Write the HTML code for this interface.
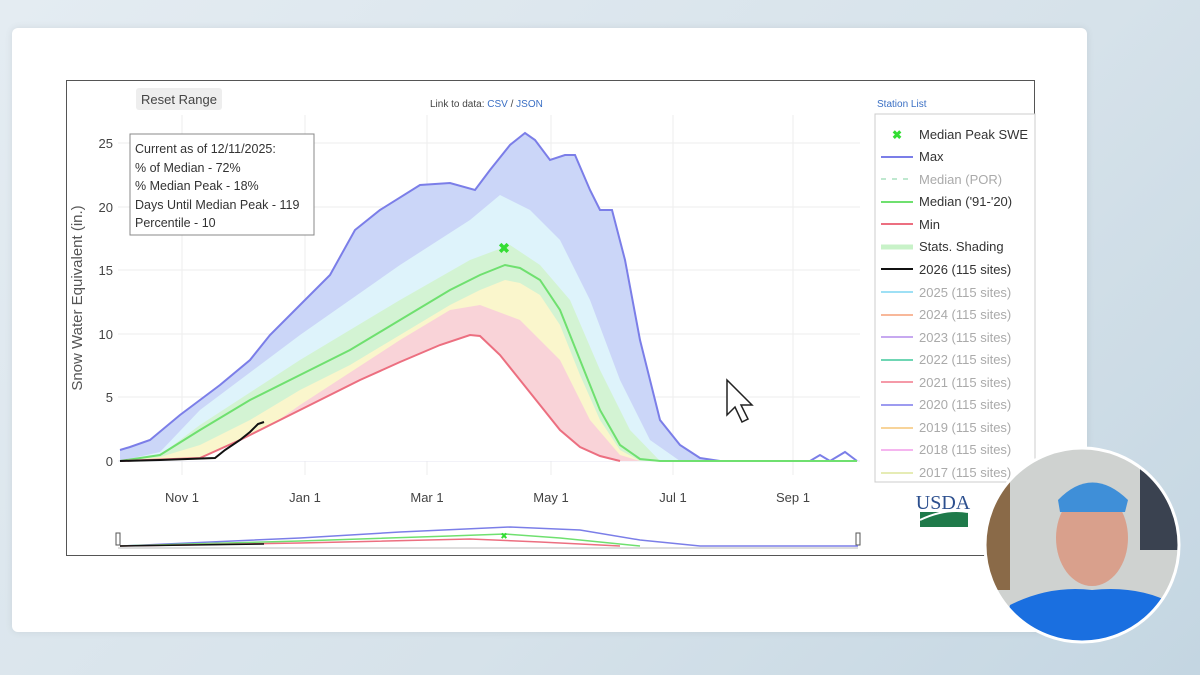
<!DOCTYPE html>
<html><head><style>
body{margin:0;width:1200px;height:675px;overflow:hidden;background:linear-gradient(135deg,#e4ecf2 0%,#d6e2ea 60%,#c4d6e2 100%);font-family:"Liberation Sans",sans-serif;position:relative}
.card{position:absolute;left:12px;top:28px;width:1075px;height:604px;background:#fff;border-radius:6px;box-shadow:0 0 8px rgba(0,0,0,.08)}
.chart{position:absolute;left:66px;top:80px;width:967px;height:474px;border:1px solid #555;background:#fff}
</style></head><body>
<div class="card"></div>
<div class="chart"></div>
<svg width="1200" height="675" style="position:absolute;left:0;top:0" font-family="Liberation Sans, sans-serif">
<!-- gridlines -->
<g stroke="#eee" stroke-width="1">
<line x1="182" y1="115" x2="182" y2="475"/><line x1="305" y1="115" x2="305" y2="475"/><line x1="427" y1="115" x2="427" y2="475"/><line x1="551" y1="115" x2="551" y2="475"/><line x1="673" y1="115" x2="673" y2="475"/><line x1="793" y1="115" x2="793" y2="475"/>
<line x1="118" y1="143" x2="860" y2="143"/><line x1="118" y1="207" x2="860" y2="207"/><line x1="118" y1="270" x2="860" y2="270"/><line x1="118" y1="334" x2="860" y2="334"/><line x1="118" y1="397" x2="860" y2="397"/>
</g>
<line x1="118" y1="461" x2="860" y2="461" stroke="#e4e4f0"/>
<!-- bands -->
<polygon fill="#cbd6f8" points="120,450 130,447 150,440 180,415 200,400 220,385 250,360 270,335 300,305 330,275 355,230 380,210 420,185 450,183 475,190 490,170 510,145 525,133 535,140 550,160 565,155 575,155 590,190 600,210 612,210 625,260 640,340 660,420 680,445 700,458 720,461 120,461"/>
<polygon fill="#def3fb" points="120,461 160,452 200,410 300,335 400,265 470,220 500,195 530,210 560,240 590,300 620,380 650,440 680,461"/>
<polygon fill="#d3f3d3" points="120,461 160,455 200,425 300,360 400,300 470,260 510,245 540,265 570,300 600,370 630,430 660,461"/>
<polygon fill="#faf6cc" points="120,461 160,457 200,445 250,420 300,390 350,365 400,335 450,305 480,290 505,280 520,283 540,295 560,325 580,375 600,420 620,450 640,461"/>
<polygon fill="#f9d3d8" points="120,461 200,460 250,440 300,405 400,340 450,310 480,305 520,320 560,360 590,420 620,455 640,461"/>
<polygon fill="#fff" points="120,461 200,458 240,440 280,420 320,400 360,380 400,362 440,345 470,335 480,336 500,355 520,380 540,405 560,430 580,447 600,456 620,461"/>
<!-- lines -->
<polyline fill="none" stroke="#7b7ee8" stroke-width="2" points="120,450 130,447 150,440 180,415 200,400 220,385 250,360 270,335 300,305 330,275 355,230 380,210 420,185 450,183 475,190 490,170 510,145 525,133 535,140 550,160 565,155 575,155 590,190 600,210 612,210 625,260 640,340 660,420 680,445 700,458 720,461 810,461 820,455 830,461 845,452 857,461"/>
<polyline fill="none" stroke="#6fe06f" stroke-width="2" points="120,461 160,455 200,430 250,400 300,375 350,350 400,320 450,290 480,275 505,265 520,268 540,280 560,310 580,360 600,410 620,445 640,459 660,461 857,461"/>
<polyline fill="none" stroke="#ec6f80" stroke-width="2" points="120,461 200,458 240,440 280,420 320,400 360,380 400,362 440,345 470,335 480,336 500,355 520,380 540,405 560,430 580,447 600,456 620,461"/>
<polyline fill="none" stroke="#111" stroke-width="2" points="120,461 160,460 215,458 225,450 240,440 250,432 258,424 264,422"/>
<text x="504" y="253" fill="#33dd33" font-size="14" font-weight="bold" text-anchor="middle">✖</text>
<!-- axes labels -->
<g font-size="13" fill="#444" text-anchor="end">
<text x="113" y="148">25</text><text x="113" y="212">20</text><text x="113" y="275">15</text><text x="113" y="339">10</text><text x="113" y="402">5</text><text x="113" y="466">0</text></g>
<g font-size="13" fill="#444" text-anchor="middle">
<text x="182" y="502">Nov 1</text><text x="305" y="502">Jan 1</text><text x="427" y="502">Mar 1</text><text x="551" y="502">May 1</text><text x="673" y="502">Jul 1</text><text x="793" y="502">Sep 1</text></g>
<text transform="translate(82,298) rotate(-90)" font-size="15" fill="#555" text-anchor="middle">Snow Water Equivalent (in.)</text>
<!-- reset -->
<rect x="136" y="88" width="86" height="22" rx="3" fill="#eee"/>
<text x="179" y="104" font-size="13" fill="#444" text-anchor="middle">Reset Range</text>
<text x="430" y="107" font-size="10" fill="#444">Link to data: <tspan fill="#3a6fc4">CSV</tspan> / <tspan fill="#3a6fc4">JSON</tspan></text>
<text x="877" y="107" font-size="10" fill="#3a6fc4">Station List</text>
<!-- info box -->
<rect x="130" y="134" width="184" height="101" fill="#fff" stroke="#888"/>
<g font-size="12.5" fill="#333"><text x="135" y="153">Current as of 12/11/2025:</text><text x="135" y="172">% of Median - 72%</text><text x="135" y="190">% Median Peak - 18%</text><text x="135" y="209">Days Until Median Peak - 119</text><text x="135" y="227">Percentile - 10</text></g>
<!-- legend -->
<rect x="875" y="114" width="160" height="368" fill="#fff" stroke="#ccc"/>
<text x="897" y="139" fill="#33dd33" font-size="12" font-weight="bold" text-anchor="middle">✖</text>
<g stroke-width="2">
<line x1="881" y1="157" x2="913" y2="157" stroke="#7b7ee8"/>
<line x1="881" y1="179" x2="913" y2="179" stroke="#bfe8cf" stroke-dasharray="5,6"/>
<line x1="881" y1="202" x2="913" y2="202" stroke="#6fe06f"/>
<line x1="881" y1="224" x2="913" y2="224" stroke="#ec6f80"/>
<line x1="881" y1="247" x2="913" y2="247" stroke="#c8f2c8" stroke-width="5"/>
<line x1="881" y1="269" x2="913" y2="269" stroke="#111"/>
<line x1="881" y1="292" x2="913" y2="292" stroke="#9ee0f5"/>
<line x1="881" y1="315" x2="913" y2="315" stroke="#f8b89a"/>
<line x1="881" y1="337" x2="913" y2="337" stroke="#c7a9f0"/>
<line x1="881" y1="360" x2="913" y2="360" stroke="#6fd6b4"/>
<line x1="881" y1="382" x2="913" y2="382" stroke="#f59aa8"/>
<line x1="881" y1="405" x2="913" y2="405" stroke="#9d9bf0"/>
<line x1="881" y1="428" x2="913" y2="428" stroke="#f8d49a"/>
<line x1="881" y1="450" x2="913" y2="450" stroke="#f5b5ef"/>
<line x1="881" y1="473" x2="913" y2="473" stroke="#e6ecb5"/>
</g>
<g font-size="13" fill="#333">
<text x="919" y="139">Median Peak SWE</text><text x="919" y="161">Max</text><text x="919" y="184" fill="#aaa">Median (POR)</text><text x="919" y="206">Median ('91-'20)</text><text x="919" y="229">Min</text><text x="919" y="251">Stats. Shading</text><text x="919" y="274">2026 (115 sites)</text>
<g fill="#aaa"><text x="919" y="297">2025 (115 sites)</text><text x="919" y="319">2024 (115 sites)</text><text x="919" y="342">2023 (115 sites)</text><text x="919" y="364">2022 (115 sites)</text><text x="919" y="387">2021 (115 sites)</text><text x="919" y="409">2020 (115 sites)</text><text x="919" y="432">2019 (115 sites)</text><text x="919" y="454">2018 (115 sites)</text><text x="919" y="477">2017 (115 sites)</text></g></g>
<text x="943" y="509" font-size="20" font-family="Liberation Serif,serif" fill="#2c4f8e" text-anchor="middle">USDA</text>
<path d="M920 512 L968 512 L968 527 L920 527 Z" fill="#1f7a4a"/>
<path d="M920 520 Q945 508 968 512" stroke="#fff" stroke-width="2" fill="none"/>
<!-- range slider -->
<line x1="118" y1="548" x2="858" y2="548" stroke="#bbb"/>
<rect x="116" y="533" width="4" height="12" fill="#fff" stroke="#555"/><rect x="856" y="533" width="4" height="12" fill="#fff" stroke="#555"/>
<polyline fill="none" stroke="#7b7ee8" stroke-width="1.5" points="120,546 300,538 400,532 510,527 580,530 640,540 700,546 858,546"/>
<polyline fill="none" stroke="#6fe06f" stroke-width="1.5" points="120,546 300,541 450,536 505,534 560,538 640,546"/>
<polyline fill="none" stroke="#ec6f80" stroke-width="1.5" points="120,546 300,543 470,539 540,542 620,546"/>
<polyline fill="none" stroke="#111" stroke-width="1.5" points="120,546 264,544"/>
<text x="504" y="539" fill="#33dd33" font-size="9" text-anchor="middle">✖</text>
<!-- cursor -->
<path d="M727 380 L727 415 L735 407 L742 422 L748 419 L741 405 L752 405 Z" fill="#fff" stroke="#222" stroke-width="1.5"/>
<!-- webcam -->
<defs><clipPath id="c"><circle cx="1082" cy="545" r="97"/></clipPath></defs>
<g clip-path="url(#c)">
<rect x="980" y="440" width="210" height="210" fill="#cfd2d0"/>
<rect x="1140" y="440" width="50" height="110" fill="#3a4250"/>
<rect x="985" y="470" width="25" height="120" fill="#8a6a48"/>
<ellipse cx="1092" cy="538" rx="36" ry="48" fill="#d9a08c"/>
<path d="M1058 500 Q1092 465 1128 500 L1125 512 L1060 512 Z" fill="#3f8fd8"/>
<path d="M1000 650 L1010 605 Q1050 585 1092 590 Q1140 585 1175 605 L1190 650 Z" fill="#1a6fe0"/>
</g>
<circle cx="1082" cy="545" r="97" fill="none" stroke="#fff" stroke-width="3"/>
</svg>
</body></html>
